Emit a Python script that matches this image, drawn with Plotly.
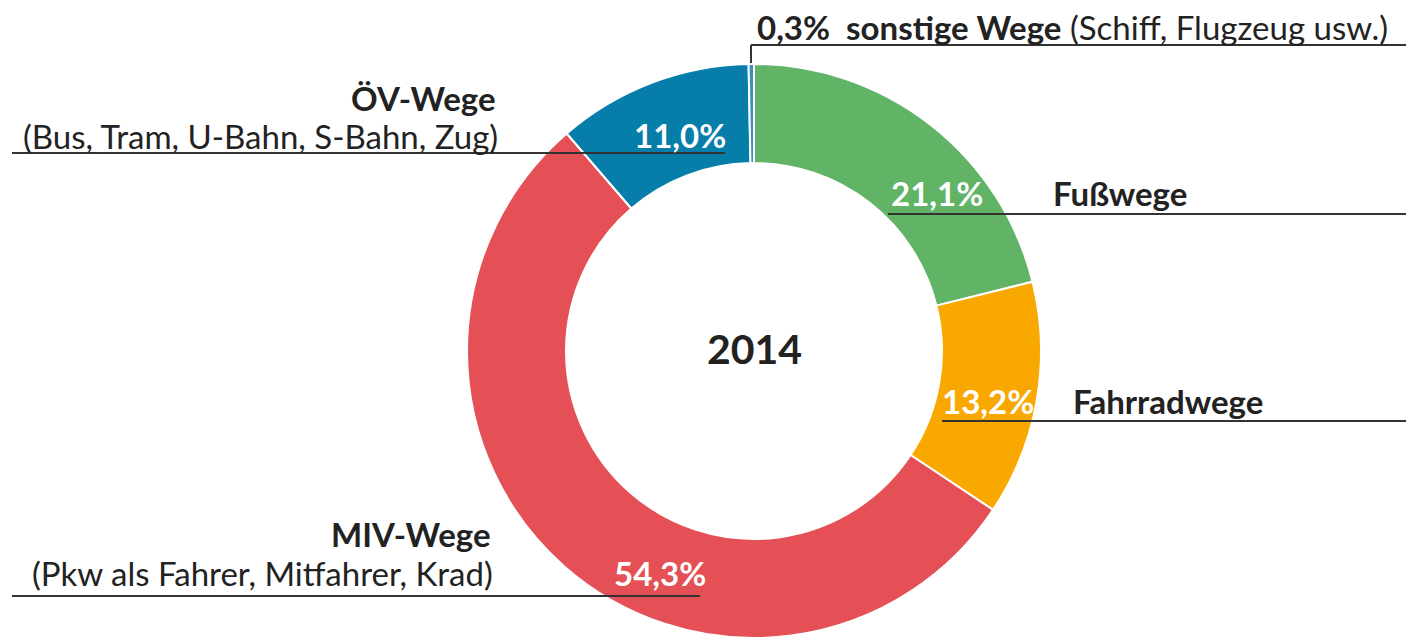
import plotly.graph_objects as go

# Modal split 2014 (share of trips, %)
categories = ['Fußwege', 'Fahrradwege', 'MIV-Wege', 'ÖV-Wege', 'sonstige Wege']
shares = [21.1, 13.2, 54.3, 11.0, 0.3]
details = ['', '', '(Pkw als Fahrer, Mitfahrer, Krad)',
           '(Bus, Tram, U-Bahn, S-Bahn, Zug)', '(Schiff, Flugzeug usw.)']
colors = ['#61B366', '#F9A800', '#E45055', '#077DAA', '#3C8FC2']
year = '2014'

W, H = 1414, 638
OFF = 8  # page body margin, the figure is drawn 8px in from the corner
FONT = 'Lato'
DARK = '#222222'
FS = 33


def px(x, y):
    # screen pixel position -> paper coordinates
    return (x - OFF) / W, 1 - (y - OFF) / H


def pct(v):
    return f'{v:.1f}'.replace('.', ',') + '%'


# donut: centre (754, 351) on screen, outer radius 287
fig = go.Figure()

fig.add_trace(go.Pie(
    labels=categories,
    values=shares,
    sort=False,
    direction='clockwise',
    rotation=0,
    hole=0.655,
    marker=dict(colors=colors, line=dict(color='white', width=2)),
    textinfo='none',
    hoverinfo='label+value',
    domain=dict(x=[(467 - OFF) / W, (1041 - OFF) / W],
                y=[(H - 638 + OFF) / H, (H - 64 + OFF) / H]),
    showlegend=False,
))

annotations = []
shapes = []


def text(x, y, s, size=FS, color=DARK, anchor='left', bold=False):
    ax, ay = px(x, y)
    if bold:
        s = f'<b>{s}</b>'
    annotations.append(dict(
        x=ax, y=ay, xref='paper', yref='paper', text=s, showarrow=False,
        xanchor=anchor, yanchor='middle', borderpad=0,
        font=dict(family=FONT, size=size, color=color),
    ))


def line(x0, y0, x1, y1):
    a0, b0 = px(x0, y0)
    a1, b1 = px(x1, y1)
    shapes.append(dict(type='line', xref='paper', yref='paper',
                       x0=a0, y0=b0, x1=a1, y1=b1,
                       line=dict(color='#333333', width=2)))


# Fußwege
text(937, 193, pct(shares[0]), color='white', anchor='center', bold=True)
text(1052, 193, categories[0], bold=True)
line(888, 214, 1412, 214)

# Fahrradwege
text(988, 401, pct(shares[1]), color='white', anchor='center', bold=True)
text(1072, 401, categories[1], bold=True)
line(942, 421, 1412, 421)

# MIV-Wege
text(660, 573, pct(shares[2]), color='white', anchor='center', bold=True)
text(492, 534, categories[2], anchor='right', bold=True)
text(494, 573, details[2], anchor='right')
line(12, 596, 700, 596)

# ÖV-Wege
text(680, 135, pct(shares[3]), color='white', anchor='center', bold=True)
text(497, 98, categories[3], anchor='right', bold=True)
text(499, 136, details[3], anchor='right')
line(12, 153, 725, 153)

# sonstige Wege
text(756, 27, f'<b>{pct(shares[4])}  {categories[4]}</b> {details[4]}')
line(751, 45, 1412, 45)
line(751, 45, 751, 63)

# year in the middle
text(754, 348, year, size=41, anchor='center', bold=True)

fig.update_layout(
    width=W, height=H,
    margin=dict(l=0, r=0, t=0, b=0),
    paper_bgcolor='white',
    plot_bgcolor='white',
    annotations=annotations,
    shapes=shapes,
    font=dict(family=FONT, color=DARK),
)

fig.write_html('out.html')
